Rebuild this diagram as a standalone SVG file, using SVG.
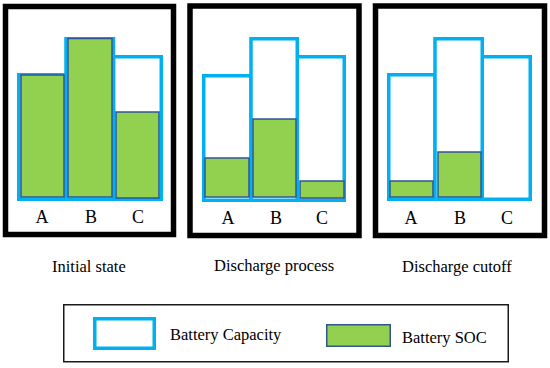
<svg xmlns="http://www.w3.org/2000/svg" width="550" height="368" viewBox="0 0 550 368">
<style>
.frame{fill:none;stroke:#000;stroke-width:5.5}
.cap{fill:#fff;stroke:#00B0F0;stroke-width:3.5}
.soc{fill:#92D050;stroke:#2F5597;stroke-width:1.5}
.lbl{font-family:"Liberation Serif","Times New Roman",serif;font-size:18px;fill:#000;text-anchor:middle}
.txt{font-family:"Liberation Serif","Times New Roman",serif;font-size:16.5px;fill:#000}
</style>
<rect width="550" height="368" fill="#fff"/>
<g id="panel-initial">
<rect class="frame" x="5.5" y="6.5" width="168" height="228"/>
<rect class="cap" x="18.75" y="74.75" width="47.25" height="124.5"/>
<rect class="cap" x="113.5" y="56.75" width="47.75" height="142.5"/>
<rect class="cap" x="66" y="38.75" width="47.5" height="160.5"/>
<rect class="soc" x="21" y="75" width="43" height="122"/>
<rect class="soc" x="68" y="38.5" width="44" height="158.5"/>
<rect class="soc" x="116" y="112" width="43" height="86"/>
<text class="lbl" x="42" y="223">A</text>
<text class="lbl" x="91" y="223">B</text>
<text class="lbl" x="138" y="223">C</text>
<text class="txt" x="52" y="272">Initial state</text>
</g>
<g id="panel-discharge">
<rect class="frame" x="190" y="6" width="169" height="229.5"/>
<rect class="cap" x="203.75" y="75.75" width="47.25" height="124.5"/>
<rect class="cap" x="297.25" y="56.75" width="47" height="143.5"/>
<rect class="cap" x="251" y="38.75" width="46.25" height="161.5"/>
<rect class="soc" x="205" y="158" width="44" height="39"/>
<rect class="soc" x="253" y="119" width="43" height="78"/>
<rect class="soc" x="300" y="181" width="44" height="17"/>
<text class="lbl" x="228" y="224">A</text>
<text class="lbl" x="276" y="224">B</text>
<text class="lbl" x="322" y="224">C</text>
<text class="txt" x="214" y="271">Discharge process</text>
</g>
<g id="panel-cutoff">
<rect class="frame" x="375.5" y="6" width="169" height="229.5"/>
<rect class="cap" x="388.75" y="74.75" width="46.25" height="124.5"/>
<rect class="cap" x="482.25" y="56.75" width="48" height="142.5"/>
<rect class="cap" x="435" y="38.75" width="47.25" height="160.5"/>
<rect class="soc" x="390" y="181" width="43" height="16"/>
<rect class="soc" x="438" y="152" width="43" height="45"/>
<text class="lbl" x="411" y="224">A</text>
<text class="lbl" x="460" y="224">B</text>
<text class="lbl" x="507" y="224">C</text>
<text class="txt" x="402" y="272">Discharge cutoff</text>
</g>
<g id="legend">
<rect x="63.75" y="304.75" width="444.5" height="57" fill="#fff" stroke="#1a1a1a" stroke-width="1.5"/>
<rect class="cap" x="94.75" y="318.75" width="59.5" height="29.5"/>
<text class="txt" x="170" y="340">Battery Capacity</text>
<rect class="soc" x="326.75" y="324.75" width="63.5" height="21.5"/>
<text class="txt" x="402" y="343">Battery SOC</text>
</g>
<g id="connectors"/>
</svg>
